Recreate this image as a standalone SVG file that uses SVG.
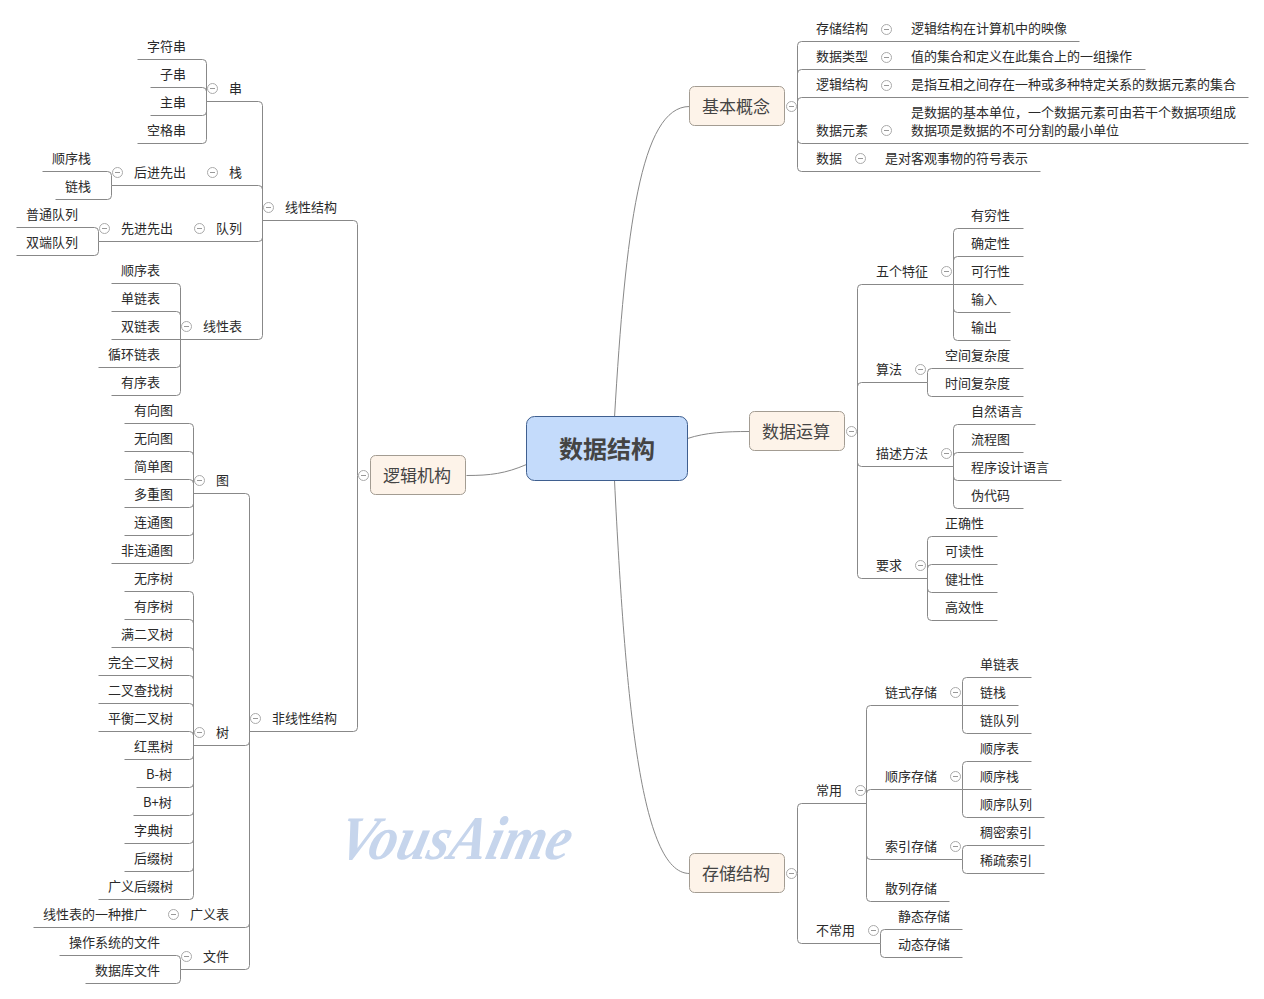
<svg xmlns="http://www.w3.org/2000/svg" width="1264" height="999" viewBox="0 0 1264 999">
<style>
text{font-family:"Noto Sans CJK SC","Noto Sans",sans-serif;font-size:13px;fill:#2a2a2a;transform:translateY(-1px)}
.c{fill:none;stroke:#888;stroke-width:1}
.b{fill:#fdf3e9;stroke:#a39c92;stroke-width:1}
text.bt{font-size:17px;fill:#444;text-anchor:middle;transform:translateY(1px)}
text.rt{font-size:24px;font-weight:bold;fill:#444;text-anchor:middle;transform:none}
text.wm{font-family:"Liberation Serif",serif;font-size:62px;font-style:italic;font-weight:bold;fill:#c6d5ec;transform:translate(335px,859px) skewX(-14deg)}
.tg{fill:#fff;stroke:#aaa;stroke-width:1}
.tm{stroke:#999;stroke-width:1}
</style>
<defs><g id="tog"><circle class="tg" cx=".5" cy=".5" r="5"/><path class="tm" d="M-2 .5H3"/></g></defs>
<rect width="1264" height="999" fill="#fff"/>
<text id="watermark" class="wm" x="0" y="0" textLength="232" lengthAdjust="spacingAndGlyphs">VousAime</text>
<g id="connectors" transform="translate(.5 .5)">
<path class="c" d="M614 417C625 230 640 106 689 106M614 480C625 700 640 873 689 873M687 438C705 432 725 431 749 431M526 464C505 473 490 475 466 475"/>
<path class="c" d="M797 106V45Q797 41 801 41H1079M797 106V73Q797 69 801 69H1145M797 106V101Q797 97 801 97H1248M797 106V139Q797 143 801 143H1248M797 106V167Q797 171 801 171H1040"/>
<path class="c" d="M857 431V288Q857 284 861 284H953M857 431V386Q857 382 861 382H927M857 431V462Q857 466 861 466H953M857 431V574Q857 578 861 578H927"/>
<path class="c" d="M953 284V232Q953 228 957 228H1023M953 284V260Q953 256 957 256H1023M953 284H1023M953 284V308Q953 312 957 312H1010M953 284V336Q953 340 957 340H1010"/>
<path class="c" d="M927 382V372Q927 368 931 368H1023M927 382V392Q927 396 931 396H1023"/>
<path class="c" d="M953 466V428Q953 424 957 424H1035M953 466V456Q953 452 957 452H1023M953 466V476Q953 480 957 480H1061M953 466V504Q953 508 957 508H1023"/>
<path class="c" d="M927 578V540Q927 536 931 536H997M927 578V568Q927 564 931 564H997M927 578V588Q927 592 931 592H997M927 578V616Q927 620 931 620H997"/>
<path class="c" d="M797 873V807Q797 803 801 803H866M797 873V939Q797 943 801 943H880"/>
<path class="c" d="M866 803V709Q866 705 870 705H962M866 803V793Q866 789 870 789H962M866 803V855Q866 859 870 859H962M866 803V897Q866 901 870 901H949"/>
<path class="c" d="M962 705V681Q962 677 966 677H1031M962 705H1018M962 705V729Q962 733 966 733H1031"/>
<path class="c" d="M962 789V765Q962 761 966 761H1031M962 789H1031M962 789V813Q962 817 966 817H1044"/>
<path class="c" d="M962 859V849Q962 845 966 845H1044M962 859V869Q962 873 966 873H1044"/>
<path class="c" d="M880 943V933Q880 929 884 929H962M880 943V953Q880 957 884 957H962"/>
<path class="c" d="M357 475V224Q357 220 353 220H262M357 475V727Q357 731 353 731H249"/>
<path class="c" d="M262 220V105Q262 101 258 101H206M262 220V189Q262 185 258 185H111M262 220V237Q262 241 258 241H98M262 220V335Q262 339 258 339H180"/>
<path class="c" d="M206 101V63Q206 59 202 59H137M206 101V91Q206 87 202 87H150M206 101V111Q206 115 202 115H150M206 101V139Q206 143 202 143H137"/>
<path class="c" d="M111 185V175Q111 171 107 171H42M111 185V195Q111 199 107 199H55"/>
<path class="c" d="M98 241V231Q98 227 94 227H16M98 241V251Q98 255 94 255H16"/>
<path class="c" d="M180 339V287Q180 283 176 283H111M180 339V315Q180 311 176 311H111M180 339H111M180 339V363Q180 367 176 367H98M180 339V391Q180 395 176 395H111"/>
<path class="c" d="M249 731V497Q249 493 245 493H193M249 731V741Q249 745 245 745H193M249 731V923Q249 927 245 927H33M249 731V965Q249 969 245 969H180"/>
<path class="c" d="M193 493V427Q193 423 189 423H124M193 493V455Q193 451 189 451H124M193 493V483Q193 479 189 479H124M193 493V503Q193 507 189 507H124M193 493V531Q193 535 189 535H124M193 493V559Q193 563 189 563H111"/>
<path class="c" d="M193 745V595Q193 591 189 591H124M193 745V623Q193 619 189 619H124M193 745V651Q193 647 189 647H111M193 745V679Q193 675 189 675H98M193 745V707Q193 703 189 703H98M193 745V735Q193 731 189 731H98M193 745V755Q193 759 189 759H124M193 745V783Q193 787 189 787H136M193 745V811Q193 815 189 815H133M193 745V839Q193 843 189 843H124M193 745V867Q193 871 189 871H124M193 745V895Q193 899 189 899H98"/>
<path class="c" d="M180 969V959Q180 955 176 955H59M180 969V979Q180 983 176 983H85"/>
</g>
<g id="root"><rect x="526.5" y="416.5" width="161" height="64" rx="8" fill="#c4dbfb" stroke="#3f5f8f"/><text class="rt" x="607" y="458">数据结构</text></g>
<g id="basic"><rect class="b" x="689.5" y="86.5" width="95" height="39" rx="5"/><text class="bt" x="736" y="112">基本概念</text><use href="#tog" x="791" y="106"/></g>
<g id="ops"><rect class="b" x="749.5" y="411.5" width="95" height="39" rx="5"/><text class="bt" x="796" y="437">数据运算</text><use href="#tog" x="851" y="431"/></g>
<g id="store"><rect class="b" x="689.5" y="853.5" width="95" height="39" rx="5"/><text class="bt" x="736" y="879">存储结构</text><use href="#tog" x="791" y="873"/></g>
<g id="logic"><rect class="b" x="370.5" y="455.5" width="95" height="39" rx="5"/><text class="bt" x="417" y="481">逻辑机构</text><use href="#tog" x="363" y="475"/></g>

<g id="basic-items">
<g id="b1"><text x="816" y="34">存储结构</text><use href="#tog" x="886" y="29"/><text x="911" y="34">逻辑结构在计算机中的映像</text></g>
<g id="b2"><text x="816" y="62">数据类型</text><use href="#tog" x="886" y="57"/><text x="911" y="62">值的集合和定义在此集合上的一组操作</text></g>
<g id="b3"><text x="816" y="90">逻辑结构</text><use href="#tog" x="886" y="85"/><text x="911" y="90">是指互相之间存在一种或多种特定关系的数据元素的集合</text></g>
<g id="b4"><text x="816" y="136">数据元素</text><use href="#tog" x="886" y="130"/><text x="911" y="118">是数据的基本单位，一个数据元素可由若干个数据项组成</text><text x="911" y="136">数据项是数据的不可分割的最小单位</text></g>
<g id="b5"><text x="816" y="164">数据</text><use href="#tog" x="860" y="158"/><text x="885" y="164">是对客观事物的符号表示</text></g>
</g>

<g id="ops-items">
<g id="o1"><text x="876" y="277">五个特征</text><use href="#tog" x="946" y="271"/></g>
<g id="o1a"><text x="971" y="221">有穷性</text></g><g id="o1b"><text x="971" y="249">确定性</text></g><g id="o1c"><text x="971" y="277">可行性</text></g><g id="o1d"><text x="971" y="305">输入</text></g><g id="o1e"><text x="971" y="333">输出</text></g>
<g id="o2"><text x="876" y="375">算法</text><use href="#tog" x="920" y="369"/></g>
<g id="o2a"><text x="945" y="361">空间复杂度</text></g><g id="o2b"><text x="945" y="389">时间复杂度</text></g>
<g id="o3"><text x="876" y="459">描述方法</text><use href="#tog" x="946" y="453"/></g>
<g id="o3a"><text x="971" y="417">自然语言</text></g><g id="o3b"><text x="971" y="445">流程图</text></g><g id="o3c"><text x="971" y="473">程序设计语言</text></g><g id="o3d"><text x="971" y="501">伪代码</text></g>
<g id="o4"><text x="876" y="571">要求</text><use href="#tog" x="920" y="565"/></g>
<g id="o4a"><text x="945" y="529">正确性</text></g><g id="o4b"><text x="945" y="557">可读性</text></g><g id="o4c"><text x="945" y="585">健壮性</text></g><g id="o4d"><text x="945" y="613">高效性</text></g>
</g>

<g id="store-items">
<g id="s1"><text x="816" y="796">常用</text><use href="#tog" x="860" y="790"/></g>
<g id="s2"><text x="816" y="936">不常用</text><use href="#tog" x="873" y="930"/></g>
<g id="s3"><text x="885" y="698">链式存储</text><use href="#tog" x="955" y="692"/></g>
<g id="s3a"><text x="980" y="670">单链表</text></g><g id="s3b"><text x="980" y="698">链栈</text></g><g id="s3c"><text x="980" y="726">链队列</text></g>
<g id="s4"><text x="885" y="782">顺序存储</text><use href="#tog" x="955" y="776"/></g>
<g id="s4a"><text x="980" y="754">顺序表</text></g><g id="s4b"><text x="980" y="782">顺序栈</text></g><g id="s4c"><text x="980" y="810">顺序队列</text></g>
<g id="s5"><text x="885" y="852">索引存储</text><use href="#tog" x="955" y="846"/></g>
<g id="s5a"><text x="980" y="838">稠密索引</text></g><g id="s5b"><text x="980" y="866">稀疏索引</text></g>
<g id="s6"><text x="885" y="894">散列存储</text></g>
<g id="s7"><text x="898" y="922">静态存储</text></g><g id="s8"><text x="898" y="950">动态存储</text></g>
</g>

<g id="logic-items">
<g id="l1"><text x="285" y="213">线性结构</text><use href="#tog" x="268" y="207"/></g>
<g id="l2"><text x="272" y="724">非线性结构</text><use href="#tog" x="255" y="718"/></g>
<g id="l3"><text x="229" y="94">串</text><use href="#tog" x="212" y="88"/></g>
<g id="l3a"><text x="147" y="52">字符串</text></g><g id="l3b"><text x="160" y="80">子串</text></g><g id="l3c"><text x="160" y="108">主串</text></g><g id="l3d"><text x="147" y="136">空格串</text></g>
<g id="l4"><text x="229" y="178">栈</text><use href="#tog" x="212" y="172"/></g>
<g id="l4a"><text x="134" y="178">后进先出</text><use href="#tog" x="117" y="172"/></g>
<g id="l4b"><text x="52" y="164">顺序栈</text></g><g id="l4c"><text x="65" y="192">链栈</text></g>
<g id="l5"><text x="216" y="234">队列</text><use href="#tog" x="199" y="228"/></g>
<g id="l5a"><text x="121" y="234">先进先出</text><use href="#tog" x="104" y="228"/></g>
<g id="l5b"><text x="26" y="220">普通队列</text></g><g id="l5c"><text x="26" y="248">双端队列</text></g>
<g id="l6"><text x="203" y="332">线性表</text><use href="#tog" x="186" y="326"/></g>
<g id="l6a"><text x="121" y="276">顺序表</text></g><g id="l6b"><text x="121" y="304">单链表</text></g><g id="l6c"><text x="121" y="332">双链表</text></g><g id="l6d"><text x="108" y="360">循环链表</text></g><g id="l6e"><text x="121" y="388">有序表</text></g>
<g id="l7"><text x="216" y="486">图</text><use href="#tog" x="199" y="480"/></g>
<g id="l7a"><text x="134" y="416">有向图</text></g><g id="l7b"><text x="134" y="444">无向图</text></g><g id="l7c"><text x="134" y="472">简单图</text></g><g id="l7d"><text x="134" y="500">多重图</text></g><g id="l7e"><text x="134" y="528">连通图</text></g><g id="l7f"><text x="121" y="556">非连通图</text></g>
<g id="l8"><text x="216" y="738">树</text><use href="#tog" x="199" y="732"/></g>
<g id="l8a"><text x="134" y="584">无序树</text></g><g id="l8b"><text x="134" y="612">有序树</text></g><g id="l8c"><text x="121" y="640">满二叉树</text></g><g id="l8d"><text x="108" y="668">完全二叉树</text></g><g id="l8e"><text x="108" y="696">二叉查找树</text></g><g id="l8f"><text x="108" y="724">平衡二叉树</text></g><g id="l8g"><text x="134" y="752">红黑树</text></g><g id="l8h"><text x="146" y="780">B-树</text></g><g id="l8i"><text x="143" y="808">B+树</text></g><g id="l8j"><text x="134" y="836">字典树</text></g><g id="l8k"><text x="134" y="864">后缀树</text></g><g id="l8l"><text x="108" y="892">广义后缀树</text></g>
<g id="l9"><text x="190" y="920">广义表</text><use href="#tog" x="173" y="914"/></g>
<g id="l9a"><text x="43" y="920">线性表的一种推广</text></g>
<g id="l10"><text x="203" y="962">文件</text><use href="#tog" x="186" y="956"/></g>
<g id="l10a"><text x="69" y="948">操作系统的文件</text></g><g id="l10b"><text x="95" y="976">数据库文件</text></g>
</g>
</svg>
